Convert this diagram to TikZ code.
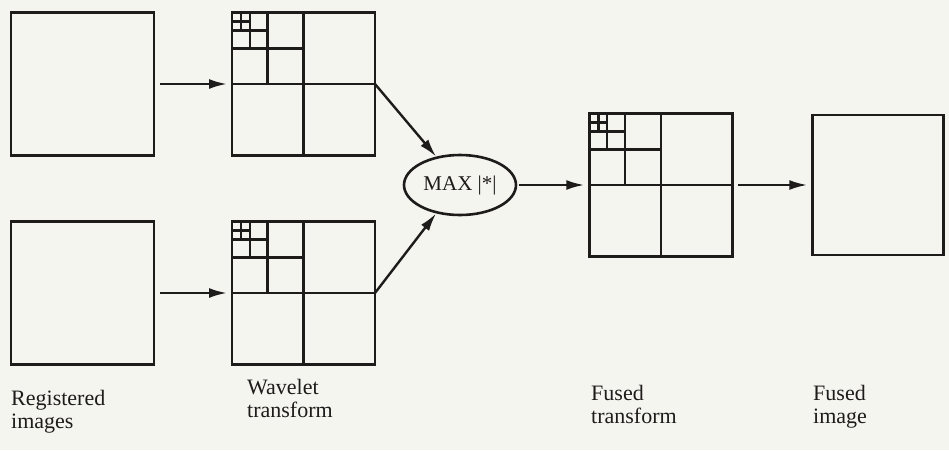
\documentclass[tikz,border=0pt]{standalone}
\usepackage{fontspec}
\setmainfont{Liberation Serif}
\usetikzlibrary{positioning,shapes.geometric,arrows.meta,calc}
\definecolor{paper}{RGB}{245,245,240}
\definecolor{ink}{RGB}{30,28,27}
\newcommand{\gridside}{143}
% dyadic sub-band split of a square node
\newcommand{\subbands}[1]{
  \foreach \f in {0.5,0.25,0.125,0.0625}
    \draw [grid line]
      ($(#1.north west)!\f!(#1.north east)$) -- ++(0pt,-2*\f*\gridside pt)
      ($(#1.north west)!\f!(#1.south west)$) -- ++(2*\f*\gridside pt,0pt);
}
\tikzset{
  image box/.style={
    draw=ink,
    line width=2.8pt,
    minimum width={#1pt},
    minimum height={#1pt},
    inner sep=0pt,
    outer sep=0pt,
  },
  image box/.default=143,
  grid line/.style={
    draw=ink,
    line width=2.6pt,
  },
  combine/.style={
    ellipse,
    draw=ink,
    line width=2.6pt,
    minimum width=112pt,
    minimum height=60pt,
    inner sep=0pt,
    text=ink,
    font=\fontsize{21}{23}\selectfont,
  },
  flow/.style={
    draw=ink,
    line width=2.4pt,
    -{Latex[length=18pt,width=10pt]},
  },
  caption/.style={
    anchor=north west,
    align=left,
    inner sep=0pt,
    text=ink,
    font=\fontsize{22}{23}\selectfont,
  }
}
\begin{document}
\begin{tikzpicture}[x=1pt,y=1pt,node distance=78pt]
        \fill[paper] (0,0) rectangle (949,-450);
        \useasboundingbox (0,0) rectangle (949,-450);

        \node [image box] (reg1) at (82.5,-84) {};
        \node [image box, below=66pt of reg1] (reg2) {};
        \node [image box, right=of reg1] (wav1) {};
        \node [image box, right=of reg2] (wav2) {};
        \node [combine] (max) at (460,-185) {MAX |*|};
        \node [image box, right=72pt of max] (fus1) {};
        \node [image box, minimum width=131pt, minimum height=140pt, right=80pt of fus1] (img) {};

        \subbands{wav1}
        \subbands{wav2}
        \subbands{fus1}

        \draw [flow, shorten <=6pt, shorten >=5pt] (reg1) -- (wav1);
        \draw [flow, shorten <=6pt, shorten >=5pt] (reg2) -- (wav2);
        \draw [flow] (wav1.east) -- (max.130);
        \draw [flow] (wav2.east) -- (max.230);
        \draw [flow, shorten <=2pt, shorten >=5pt] (max) -- (fus1);
        \draw [flow, shorten <=6pt, shorten >=5pt] (fus1) -- (img);

        \node [caption] (lreg) at (11,-390) {Registered\\images};
        \node [caption] (lwav) at (247,-379) {Wavelet\\transform};
        \node [caption] (lfus) at (591,-385) {Fused\\transform};
        \node [caption] (limg) at (813,-385) {Fused\\image};
    \end{tikzpicture}
\end{document}
